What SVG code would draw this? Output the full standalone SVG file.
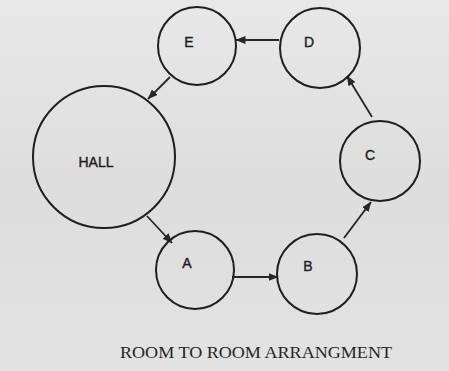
<svg xmlns="http://www.w3.org/2000/svg" width="449" height="371" viewBox="0 0 449 371">
<defs>
<style>
.room{fill:none;stroke:#1e1e1e;stroke-width:2}
.lbl{font-family:"Liberation Sans",Arial,sans-serif;font-size:14px;fill:#1e1e1e;stroke:#1e1e1e;stroke-width:0.4;text-anchor:middle}
.edge{stroke:#262626;stroke-width:1.8;fill:none;marker-end:url(#ah)}
.title{font-family:"Liberation Serif","Times New Roman",serif;font-size:16px;fill:#262626}
</style>
<marker id="ah" viewBox="0 0 10 8" refX="9.5" refY="4" markerWidth="10" markerHeight="8" markerUnits="userSpaceOnUse" orient="auto">
<path d="M0,0 L10,4 L0,8 Z" fill="#262626"/>
</marker>
<linearGradient id="bg" x1="0" y1="0" x2="0" y2="1">
<stop offset="0" stop-color="#e8e8e8"/>
<stop offset="0.5" stop-color="#dddddd"/>
<stop offset="1" stop-color="#e2e2e2"/>
</linearGradient>
</defs>
<rect width="449" height="371" fill="url(#bg)"/>
<g id="connectors">
<line class="edge" x1="279" y1="40" x2="236" y2="40"/>
<line class="edge" x1="170" y1="77" x2="148" y2="99"/>
<line class="edge" x1="147" y1="216" x2="172" y2="243"/>
<line class="edge" x1="232" y1="277" x2="278" y2="277"/>
<line class="edge" x1="344" y1="238" x2="371" y2="202"/>
<line class="edge" x1="372" y1="117" x2="347" y2="76"/>
</g>
<g id="hall"><circle class="room" cx="104" cy="157" r="71"/><text class="lbl" x="96" y="167">HALL</text></g>
<g id="a"><circle class="room" cx="195" cy="270" r="39"/><text class="lbl" x="187" y="268">A</text></g>
<g id="b"><circle class="room" cx="317" cy="274" r="40"/><text class="lbl" x="308" y="271">B</text></g>
<g id="c"><circle class="room" cx="380" cy="161" r="40"/><text class="lbl" x="370" y="160">C</text></g>
<g id="d"><circle class="room" cx="320" cy="48" r="40"/><text class="lbl" x="309" y="47">D</text></g>
<g id="e"><circle class="room" cx="197" cy="46" r="39"/><text class="lbl" x="189" y="47">E</text></g>
<text class="title" x="120" y="358" textLength="272" lengthAdjust="spacingAndGlyphs">ROOM TO ROOM ARRANGMENT</text>
</svg>
